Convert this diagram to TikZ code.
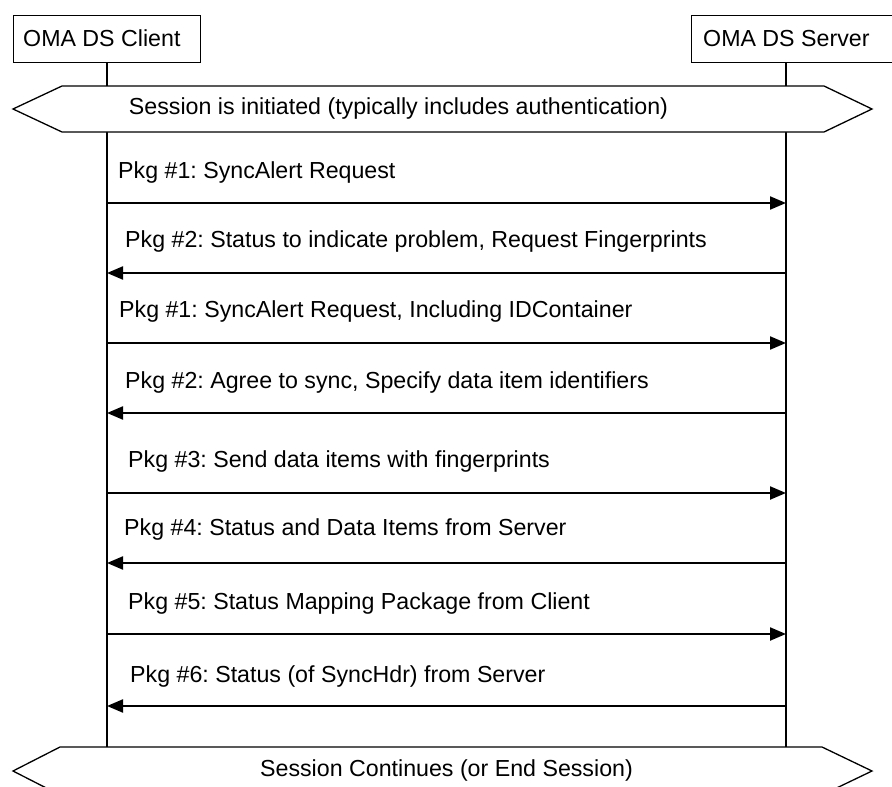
\documentclass[tikz,border=0pt]{standalone}
\usepackage{fontspec}
\setmainfont{Liberation Sans}
\usetikzlibrary{arrows.meta}
\frenchspacing
\begin{document}
\begin{tikzpicture}[x=1pt,y=-1pt,
  actor/.style={draw,line width=1.3pt,anchor=north west,minimum height=47pt,inner sep=0pt},
  life/.style={line width=1.5pt},
  banner/.style={draw,line width=1.3pt,fill=white},
  msg/.style={line width=2.2pt,-{Triangle[length=16pt,width=13pt]}},
  lbl/.style={anchor=west,inner sep=0pt,font=\fontsize{23.2}{26}\selectfont},
  btxt/.style={inner sep=0pt,font=\fontsize{23.2}{26}\selectfont}]
\useasboundingbox (0,0) rectangle (892,787);
\node[actor,minimum width=187pt] (client) at (13,15) {};
\node[lbl] (clientt) at (23,38.5) {OMA DS Client};
\node[actor,minimum width=201pt] (server) at (691,15) {};
\node[lbl] (servert) at (703,38.5) {OMA DS Server};
% lifelines
\coordinate (ctop) at (107,62);
\coordinate (stop) at (786,62);
\coordinate (cbot) at (107,747);
\coordinate (sbot) at (786,747);
\draw[life] (ctop) -- (cbot);
\draw[life] (stop) -- (sbot);
% top banner
\draw[banner] (13,109) -- (62,86) -- (824,86) -- (872,109) -- (824,132) -- (62,132) -- cycle;
\node[btxt] (init) at (398.5,109) {Session is initiated (typically includes authentication)};
% bottom banner
\draw[banner] (13,771) -- (60,747) -- (822,747) -- (872,771) -- (822,795) -- (60,795) -- cycle;
\node[btxt] (cont) at (446.5,770) {Session Continues (or End Session)};
% messages
\foreach \i/\y in {1/203,2/273,3/343,4/413,5/493,6/563,7/634,8/706}{
  \coordinate (c\i) at (107,\y);
  \coordinate (s\i) at (786,\y);
}
\draw[msg] (c1) -- (s1);
\draw[msg] (s2) -- (c2);
\draw[msg] (c3) -- (s3);
\draw[msg] (s4) -- (c4);
\draw[msg] (c5) -- (s5);
\draw[msg] (s6) -- (c6);
\draw[msg] (c7) -- (s7);
\draw[msg] (s8) -- (c8);
\node[lbl] (l1) at (118,172) {Pkg \#1: SyncAlert Request};
\node[lbl] (l2) at (125,241) {Pkg \#2: Status to indicate problem, Request Fingerprints};
\node[lbl] (l3) at (119,311) {Pkg \#1: SyncAlert Request, Including IDContainer};
\node[lbl] (l4) at (125,382) {Pkg \#2: Agree to sync, Specify data item identifiers};
\node[lbl] (l5) at (128,461) {Pkg \#3: Send data items with fingerprints};
\node[lbl] (l6) at (124,529) {Pkg \#4: Status and Data Items from Server};
\node[lbl] (l7) at (128,603) {Pkg \#5: Status Mapping Package from Client};
\node[lbl] (l8) at (130,676) {Pkg \#6: Status (of SyncHdr) from Server};
\end{tikzpicture}
\end{document}
